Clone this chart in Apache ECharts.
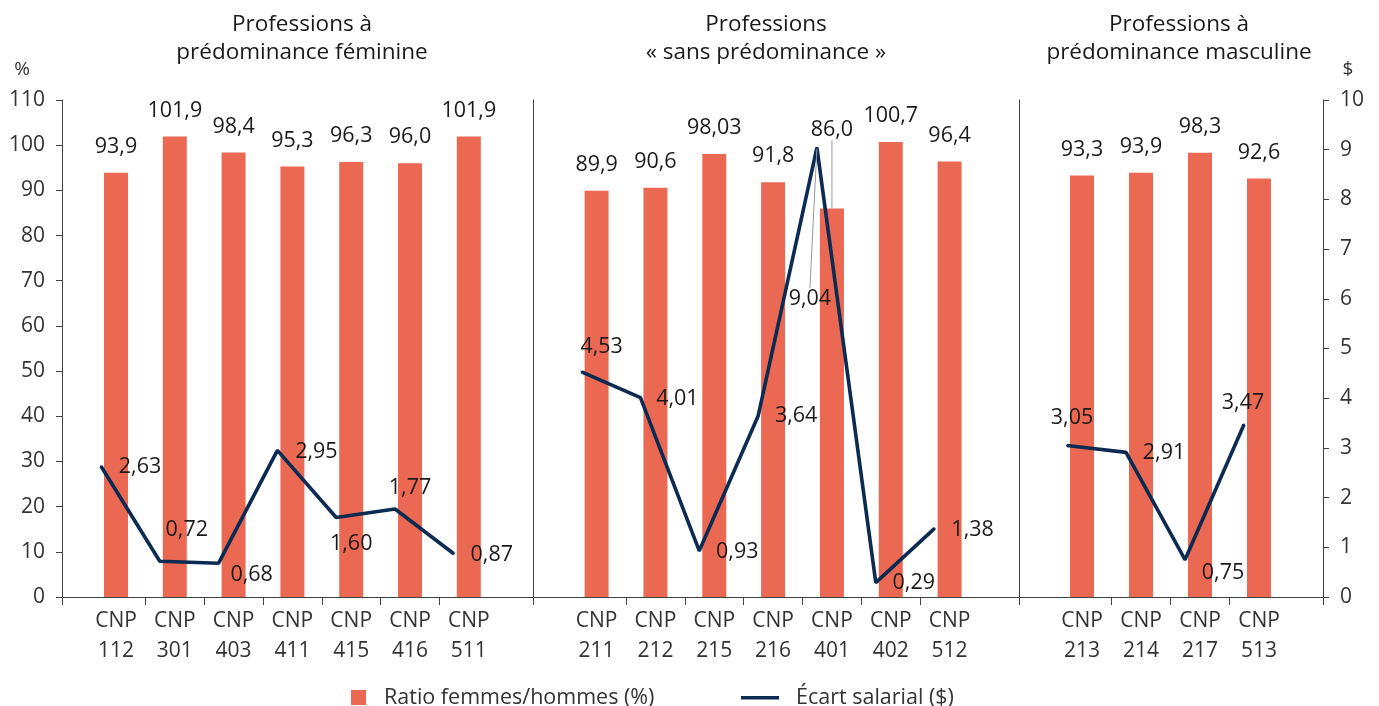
<!DOCTYPE html>
<html><head><meta charset="utf-8">
<script src="https://cdn.jsdelivr.net/npm/echarts@6/dist/echarts.min.js"></script>
<style>html,body{margin:0;padding:0;background:#fff}#c{width:1379px;height:706px}</style>
</head><body><div id="c"></div>
<script>
// ---------- DATA ----------
const groupTitles = [
  ['Professions à', 'prédominance féminine'],
  ['Professions', '« sans prédominance »'],
  ['Professions à', 'prédominance masculine']
];
const cats1 = ['CNP 112','CNP 301','CNP 403','CNP 411','CNP 415','CNP 416','CNP 511'];
const ratio1 = [93.9, 101.9, 98.4, 95.3, 96.3, 96.0, 101.9];
const gap1 = [2.63, 0.72, 0.68, 2.95, 1.60, 1.77, 0.87];

const cats2 = ['CNP 211','CNP 212','CNP 215','CNP 216','CNP 401','CNP 402','CNP 512'];
const ratio2 = [89.9, 90.6, 98.03, 91.8, 86.0, 100.7, 96.4];
const gap2 = [4.53, 4.01, 0.93, 3.64, 9.04, 0.29, 1.38];

const cats3 = ['CNP 213','CNP 214','CNP 217','CNP 513'];
const ratio3 = [93.3, 93.9, 98.3, 92.6];
const gap3 = [3.05, 2.91, 0.75, 3.47];

const seriesNames = ['Ratio femmes/hommes (%)', 'Écart salarial ($)'];
const unitLeft = '%', unitRight = '$';

// ---------- STYLE / LAYOUT ----------
const FONT = '"Open Sans", "Noto Sans", sans-serif';
const BAR = '#EB6852', LINE = '#0C2B52', AX = '#404040', TXT = '#1a1a1a', AXT = '#333333';
const VFS = 21.5;  // value label font size
const TOP = 100, H = 497;
const panels = [{left: 62, width: 471}, {left: 533, width: 486}, {left: 1019, width: 304}];
const bands = [{left: 86.6, w: 58.8}, {left: 567.2, w: 58.83}, {left: 1052.5, w: 59}];
const lineShift = -15;
const titleX = [302, 766, 1179];
const lineLabelOffsets = [
  [[39,1],[27,-31],[33,12],[39,1],[15,26],[15,-21],[38,1]],
  [[20,-25],[37,1],[38,1],[38,0],[-7,151],[38,0],[38,1]],
  [[5,-28],[38,1],[38,13],[-1,-22]]
];
const lineLeader = {group: 1, index: 4};
const barMoved = {group: 1, index: 4, dy: -53};

const cats = [cats1, cats2, cats3];
const ratios = [ratio1, ratio2, ratio3];
const gaps = [gap1, gap2, gap3];

function fmtRatio(v) { let s = String(v); if (s.indexOf('.') < 0) s += '.0'; return s.replace('.', ','); }
function fmtGap(v) { return v.toFixed(2).replace('.', ','); }

const grids = [], xAxes = [], yAxes = [], series = [];
const G = (left, width) => ({left: left, top: TOP, width: width, height: H, containLabel: false, outerBoundsMode: 'none'});
// panel frames 0..2
panels.forEach((p, i) => {
  grids.push(G(p.left, p.width));
  xAxes.push({gridIndex: i, type: 'value', min: 0, max: 1, interval: 1,
    axisLine: {show: true, lineStyle: {color: AX, width: 1}},
    axisTick: {show: true, length: 8, lineStyle: {color: AX}},
    axisLabel: {show: false}, splitLine: {show: false}});
});
// bar grids 3..5
bands.forEach((b, i) => grids.push(G(b.left, b.w * cats[i].length)));
// line grids 6..8
bands.forEach((b, i) => grids.push(G(b.left + lineShift, b.w * cats[i].length)));
// tick grids 9..11 (shifted half a band, one category fewer)
bands.forEach((b, i) => grids.push(G(b.left + b.w / 2, b.w * (cats[i].length - 1))));

cats.forEach((c, i) => {
  xAxes.push({gridIndex: 3 + i, type: 'category', data: c,
    axisLine: {show: false}, axisTick: {show: false},
    axisLabel: {interval: 0, formatter: v => v.replace(' ', '\n'), fontSize: 21, lineHeight: 30, color: AXT, margin: 9, fontFamily: FONT},
    splitLine: {show: false}});
});
cats.forEach((c, i) => xAxes.push({gridIndex: 6 + i, type: 'category', data: c, show: false}));
cats.forEach((c, i) => xAxes.push({gridIndex: 9 + i, type: 'category', data: c.slice(0, -1),
  axisLine: {show: false}, axisLabel: {show: false}, splitLine: {show: false},
  axisTick: {show: true, alignWithLabel: true, interval: 0, length: 8, lineStyle: {color: AX}}}));

// y axes
yAxes.push({gridIndex: 0, type: 'value', min: 0, max: 110, interval: 10, position: 'left',
  axisLine: {show: true, lineStyle: {color: AX}}, axisTick: {show: true, length: 6, lineStyle: {color: AX}},
  axisLabel: {fontSize: 21, color: AXT, margin: 17, fontFamily: FONT}, splitLine: {show: false}});
yAxes.push({gridIndex: 1, type: 'value', min: 0, max: 110, position: 'left',
  axisLine: {show: true, lineStyle: {color: AX}}, axisTick: {show: false}, axisLabel: {show: false}, splitLine: {show: false}});
yAxes.push({gridIndex: 2, type: 'value', min: 0, max: 110, position: 'left',
  axisLine: {show: true, lineStyle: {color: AX}}, axisTick: {show: false}, axisLabel: {show: false}, splitLine: {show: false}});
yAxes.push({gridIndex: 2, type: 'value', min: 0, max: 10, interval: 1, position: 'right',
  axisLine: {show: true, lineStyle: {color: AX}}, axisTick: {show: true, length: 6, lineStyle: {color: AX}},
  axisLabel: {fontSize: 21, color: AXT, margin: 17, fontFamily: FONT}, splitLine: {show: false}});
[0,1,2].forEach(i => yAxes.push({gridIndex: 3 + i, type: 'value', min: 0, max: 110, show: false}));  // 4..6
[0,1,2].forEach(i => yAxes.push({gridIndex: 6 + i, type: 'value', min: 0, max: 10, show: false}));   // 7..9
[0,1,2].forEach(i => yAxes.push({gridIndex: 9 + i, type: 'value', min: 0, max: 10, show: false}));   // 10..12

ratios.forEach((r, i) => {
  series.push({
    type: 'bar', name: seriesNames[0], xAxisIndex: 3 + i, yAxisIndex: 4 + i,
    data: r.map((v, j) => (i === barMoved.group && j === barMoved.index) ? {value: v, labelLine: {show: true}} : v),
    barWidth: 24, itemStyle: {color: BAR}, color: BAR,
    label: {show: true, position: 'top', distance: 15, fontSize: VFS, lineHeight: 22, color: TXT, fontFamily: FONT,
      formatter: p => fmtRatio(p.value)},
    labelLine: {show: false, lineStyle: {color: '#999', width: 1}},
    labelLayout: p => (i === barMoved.group && p.dataIndex === barMoved.index) ? {dy: barMoved.dy} : {},
    clip: false, z: 2
  });
});
gaps.forEach((g, i) => {
  series.push({
    type: 'line', name: seriesNames[1], xAxisIndex: 6 + i, yAxisIndex: 7 + i,
    data: g.map((v, j) => (i === lineLeader.group && j === lineLeader.index) ? {value: v, labelLine: {show: true}} : v),
    symbol: 'circle', symbolSize: 2, showSymbol: true, color: LINE,
    lineStyle: {color: LINE, width: 3.6}, itemStyle: {color: LINE},
    label: {show: true, position: 'inside', fontSize: VFS, lineHeight: 22, color: TXT, fontFamily: FONT,
      formatter: p => fmtGap(p.value)},
    labelLine: {show: false, lineStyle: {color: '#999', width: 1}},
    labelLayout: p => ({dx: lineLabelOffsets[i][p.dataIndex][0], dy: lineLabelOffsets[i][p.dataIndex][1]}),
    clip: false, z: 3
  });
});

const graphics = groupTitles.map((t, i) => ({
  type: 'text', x: titleX[i], y: 39,
  style: {text: t.join('\n'), fontSize: 22.5, fontFamily: FONT, fill: TXT, align: 'center', verticalAlign: 'middle',
    textAlign: 'center', textVerticalAlign: 'middle', lineHeight: 28}
}));
graphics.push({type: 'text', x: 22, y: 70, style: {text: unitLeft, fontSize: 19, fontFamily: FONT, fill: AXT, align: 'center', verticalAlign: 'middle', textAlign: 'center', textVerticalAlign: 'middle'}});
graphics.push({type: 'text', x: 1348, y: 70, style: {text: unitRight, fontSize: 19, fontFamily: FONT, fill: AXT, align: 'center', verticalAlign: 'middle', textAlign: 'center', textVerticalAlign: 'middle'}});

const option = {
  animation: false,
  backgroundColor: '#ffffff',
  textStyle: {fontFamily: FONT},
  grid: grids, xAxis: xAxes, yAxis: yAxes, series: series,
  legend: [
    {data: [{name: seriesNames[0], icon: 'path://M0,0H15V15H0ZM28,15', itemStyle: {color: BAR}}],
      left: 351, top: 686.5, padding: 0, itemWidth: 28, itemHeight: 15, selectedMode: false,
      textStyle: {fontSize: VFS, color: AXT, fontFamily: FONT}},
    {data: [{name: seriesNames[1], icon: 'path://M0,6H38V9.5H0ZM50,0M50,15', itemStyle: {color: LINE}}],
      left: 741, top: 686.5, padding: 0, itemWidth: 50, itemHeight: 15, selectedMode: false,
      textStyle: {fontSize: VFS, color: AXT, fontFamily: FONT}}
  ],
  graphic: graphics
};
const chart = echarts.init(document.getElementById('c'), null, {renderer: 'canvas'});
chart.setOption(option);
</script>
</body></html>
